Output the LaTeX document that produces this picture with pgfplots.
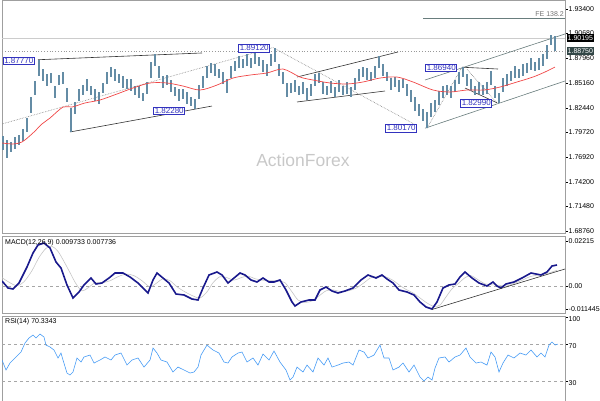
\documentclass[border=0pt]{standalone}
\usepackage{pgfplots}
\pgfplotsset{compat=1.18}
\usepackage{fontspec}
\setmainfont{Liberation Sans}
\definecolor{barc}{RGB}{100,140,165}
\definecolor{macdc}{RGB}{25,25,140}
\definecolor{rsic}{RGB}{70,155,245}
\definecolor{lblc}{RGB}{50,50,190}
\definecolor{chanc}{RGB}{105,125,125}
\definecolor{mac}{RGB}{240,70,70}
\definecolor{wm}{RGB}{200,200,200}
\definecolor{tagc}{RGB}{50,70,70}
\newcommand{\tk}{\fontsize{7}{8}\selectfont}
\newcommand{\lk}{\fontsize{8}{9}\selectfont}
\tikzset{lbl/.style={draw=lblc, fill=white, text=lblc, font=\lk, inner sep=1pt, line width=0.6pt}}
\begin{document}
\begin{tikzpicture}[x=1pt,y=1pt]
\pgfplotsset{
 panel/.style={scale only axis, width=563pt, xmin=2, xmax=565, anchor=north west,
  axis line style={draw=gray!75, line width=0.7pt},
  xtick=\empty, ytick pos=right, yticklabel pos=right, tick align=outside,
  scaled y ticks=false,
  major tick length=2.5pt, every tick/.style={draw=black, line width=0.4pt},
  yticklabel style={font=\tk, text=black, inner sep=1pt},
  clip mode=individual}
}
% ---------------- main price panel ----------------
\begin{axis}[panel, at={(2pt,0pt)}, height=233pt, ymin=1.68537, ymax=1.944,
 ytick={1.934,1.9068,1.8796,1.8516,1.8244,1.7972,1.7692,1.742,1.7148,1.6876},
 yticklabels={1.93400,1.90680,1.87960,1.85160,1.82440,1.79720,1.76920,1.74200,1.71480,1.68760}]
\node[text=wm, font=\fontsize{17.5}{18}\selectfont] at (axis cs:303,1.7664) {ActionForex};
% horizontal levels
\addplot[gray!40, line width=0.6pt] coordinates {(2,1.9018) (565,1.9018)};
\addplot[gray!80, dotted, line width=0.8pt] coordinates {(2,1.8875) (565,1.8875)};
\addplot[chanc, line width=0.6pt] coordinates {(423,1.9240) (565,1.9240)};
\node[anchor=south east, font=\tk, text=gray!90!black, inner sep=1pt] at (axis cs:565,1.9245) {FE 138.2};
% dotted swing lines
\addplot[gray, densely dotted, line width=0.6pt] coordinates {(2,1.8064) (273,1.8912) (414,1.8064)};
\addplot[gray, densely dotted, line width=0.6pt] coordinates {(427,1.8017) (462,1.8694)};
\addplot[gray, densely dotted, line width=0.6pt] coordinates {(467,1.8670) (497,1.8299)};
% trend lines
\addplot[black!80, line width=0.6pt] coordinates {(38,1.8777) (202,1.8852)};
\addplot[black!80, line width=0.6pt] coordinates {(70,1.7975) (212,1.8263)};
\addplot[black!80, line width=0.6pt] coordinates {(297,1.8585) (398,1.8863)};
\addplot[black!80, line width=0.6pt] coordinates {(297,1.8308) (385,1.8430)};
\addplot[chanc, line width=0.6pt] coordinates {(425,1.8017) (565,1.8541)};
\addplot[chanc, line width=0.6pt] coordinates {(425,1.8552) (565,1.9063)};
\addplot[black!80, line width=0.6pt] coordinates {(462,1.8694) (498,1.8674)};
\addplot[black!80, line width=0.6pt] coordinates {(465,1.8463) (497,1.8299)};
% bars (high-low)
\addplot[draw=none, mark=none, forget plot,
  error bars/.cd, y dir=both, y explicit, error mark=none,
  error bar style={draw=barc, line width=2.3pt, solid}]
 table[x=x, y=m, y error=r] {
x m r
3 1.7850 0.0080
7 1.7786 0.0100
11 1.7808 0.0055
15 1.7853 0.0062
19 1.7886 0.0055
23 1.7942 0.0068
27 1.8053 0.0075
31 1.8274 0.0090
35 1.8463 0.0080
39 1.8685 0.0092
43 1.8607 0.0062
47 1.8552 0.0070
51 1.8574 0.0055
55 1.8419 0.0068
59 1.8552 0.0060
63 1.8574 0.0062
67 1.8385 0.0080
71 1.8108 0.0133
75 1.8241 0.0070
79 1.8385 0.0062
83 1.8441 0.0055
87 1.8496 0.0068
91 1.8441 0.0050
95 1.8385 0.0062
99 1.8352 0.0065
103 1.8463 0.0060
107 1.8574 0.0070
111 1.8641 0.0055
115 1.8607 0.0062
119 1.8574 0.0050
123 1.8530 0.0068
127 1.8508 0.0055
131 1.8496 0.0062
135 1.8441 0.0050
139 1.8419 0.0068
143 1.8363 0.0044
147 1.8463 0.0062
151 1.8663 0.0085
155 1.8774 0.0067
159 1.8641 0.0062
163 1.8530 0.0070
167 1.8552 0.0055
171 1.8485 0.0062
175 1.8419 0.0050
179 1.8385 0.0068
183 1.8397 0.0055
187 1.8352 0.0062
191 1.8308 0.0050
195 1.8286 0.0058
199 1.8419 0.0075
203 1.8530 0.0062
207 1.8641 0.0068
211 1.8685 0.0055
215 1.8663 0.0062
219 1.8619 0.0050
223 1.8574 0.0068
227 1.8485 0.0077
231 1.8641 0.0070
235 1.8707 0.0055
239 1.8752 0.0062
243 1.8730 0.0050
247 1.8774 0.0068
251 1.8741 0.0055
255 1.8796 0.0062
259 1.8752 0.0050
263 1.8707 0.0068
267 1.8663 0.0070
271 1.8774 0.0062
275 1.8830 0.0082
279 1.8663 0.0068
283 1.8574 0.0062
287 1.8441 0.0075
291 1.8463 0.0055
295 1.8485 0.0062
299 1.8441 0.0050
303 1.8463 0.0068
307 1.8397 0.0067
311 1.8441 0.0062
315 1.8552 0.0068
319 1.8574 0.0055
323 1.8463 0.0062
327 1.8441 0.0050
331 1.8474 0.0068
335 1.8419 0.0055
339 1.8485 0.0062
343 1.8441 0.0050
347 1.8463 0.0068
351 1.8419 0.0055
355 1.8508 0.0070
359 1.8607 0.0062
363 1.8641 0.0055
367 1.8619 0.0062
371 1.8596 0.0050
375 1.8641 0.0068
379 1.8752 0.0066
383 1.8663 0.0062
387 1.8596 0.0050
391 1.8508 0.0068
395 1.8530 0.0055
399 1.8485 0.0062
403 1.8508 0.0050
407 1.8441 0.0068
411 1.8374 0.0070
415 1.8286 0.0075
419 1.8219 0.0068
423 1.8164 0.0070
427 1.8108 0.0091
431 1.8219 0.0075
435 1.8263 0.0062
439 1.8352 0.0075
443 1.8419 0.0062
447 1.8441 0.0055
451 1.8419 0.0062
455 1.8485 0.0068
459 1.8574 0.0070
463 1.8641 0.0053
467 1.8552 0.0070
471 1.8496 0.0062
475 1.8441 0.0050
479 1.8463 0.0068
483 1.8441 0.0055
487 1.8463 0.0062
491 1.8574 0.0075
495 1.8419 0.0068
499 1.8352 0.0053
503 1.8496 0.0075
507 1.8552 0.0062
511 1.8596 0.0055
515 1.8641 0.0062
519 1.8619 0.0050
523 1.8663 0.0068
527 1.8685 0.0055
531 1.8730 0.0062
535 1.8707 0.0050
539 1.8730 0.0068
543 1.8774 0.0062
547 1.8863 0.0075
551 1.8996 0.0056
555 1.8960 0.0085
};
% moving average
\addplot[mac, line width=0.7pt, smooth] coordinates {
(2,1.7853) (13,1.7842) (22,1.7864) (33,1.7964) (42,1.8064) (50,1.8130) (63,1.8252)
(72,1.8252) (85,1.8297) (100,1.8330) (117,1.8397) (133,1.8463) (150,1.8519) (167,1.8519)
(183,1.8485) (200,1.8441) (217,1.8496) (233,1.8574) (250,1.8607) (267,1.8630) (283,1.8674)
(300,1.8585) (313,1.8552) (330,1.8519) (347,1.8508) (363,1.8530) (380,1.8574) (397,1.8585)
(413,1.8530) (433,1.8441) (450,1.8419) (467,1.8441) (484,1.8441) (500,1.8474) (517,1.8530)
(533,1.8585) (545,1.8641) (555,1.8696)};
% swing labels
\node[lbl, anchor=west] at (axis cs:3,1.8765) {1.87770};
\node[lbl, anchor=east] at (axis cs:270,1.8907) {1.89120};
\node[lbl, anchor=east] at (axis cs:185,1.8210) {1.82280};
\node[lbl, anchor=east] at (axis cs:417,1.8019) {1.80170};
\node[lbl, anchor=east] at (axis cs:457,1.8688) {1.86940};
\node[lbl, anchor=east] at (axis cs:492,1.8297) {1.82990};
% price tags
\node[fill=black, text=white, font=\tk, inner sep=1pt, anchor=west, minimum height=8.5pt] at (axis cs:566.5,1.9018) {1.90195};
\node[fill=tagc, text=white, font=\tk, inner sep=1pt, anchor=west, minimum height=8.5pt] at (axis cs:566.5,1.8875) {1.88750};
\end{axis}
% ---------------- MACD panel ----------------
\begin{axis}[panel, at={(2pt,-236pt)}, height=77pt, ymin=-0.01344, ymax=0.0246,
 ytick={0.02215,0,-0.011445}, yticklabels={0.02215,0.00,-0.011445}]
\addplot[gray!70, dashed, line width=0.4pt] coordinates {(2,0) (565,0)};
\addplot[gray!45, line width=0.6pt, smooth] coordinates {
(2,0.0040) (10,0.0015) (17,0.0000) (24,0.0020) (32,0.0075) (39,0.0140) (46,0.0185) (52,0.0195)
(58,0.0170) (64,0.0120) (70,0.0065) (76,0.0010) (82,-0.0025) (88,-0.0010) (95,0.0015) (102,0.0015)
(110,0.0025) (118,0.0045) (126,0.0058) (134,0.0050) (142,0.0025) (150,-0.0005) (157,0.0015)
(163,0.0035) (170,0.0025) (177,-0.0005) (185,-0.0030) (193,-0.0050) (200,-0.0060) (207,-0.0030)
(213,0.0015) (220,0.0045) (227,0.0040) (234,0.0028) (241,0.0040) (248,0.0048) (255,0.0035)
(262,0.0028) (270,0.0025) (278,0.0025) (285,0.0015) (292,-0.0030) (298,-0.0070) (305,-0.0082)
(312,-0.0075) (319,-0.0050) (326,-0.0025) (333,-0.0020) (340,-0.0028) (348,-0.0025) (356,-0.0012)
(364,0.0015) (371,0.0040) (378,0.0045) (385,0.0045) (392,0.0030) (399,0.0005) (406,-0.0018)
(413,-0.0035) (420,-0.0060) (427,-0.0085) (434,-0.0102) (440,-0.0095) (446,-0.0055) (452,-0.0015)
(458,0.0010) (465,0.0040) (471,0.0050) (478,0.0030) (485,0.0010) (492,0.0005) (499,0.0003)
(506,-0.0002) (513,0.0010) (521,0.0025) (530,0.0045) (540,0.0055) (548,0.0062) (557,0.0077)};
\addplot[macdc, line width=1.6pt] coordinates {
(2,0.00237) (8,-0.00109) (13,-0.00158) (19,0.00138) (27,0.00929) (33,0.01620) (38,0.02016)
(44,0.02114) (50,0.01868) (56,0.01176) (61,0.00879) (67,0.00040) (73,-0.00603) (79,-0.00306)
(84,0.00040) (91,0.00385) (96,0.00089) (102,0.00138) (109,0.00385) (115,0.00632) (123,0.00632)
(130,0.00435) (138,0.00138) (148,-0.00356) (153,0.00287) (157,0.00632) (163,0.00385) (169,0.00138)
(176,-0.00405) (184,-0.00454) (192,-0.00652) (198,-0.00701) (203,-0.00109) (209,0.00534)
(217,0.00682) (222,0.00534) (228,0.00138) (234,0.00385) (240,0.00632) (245,0.00534) (251,0.00287)
(257,0.00188) (263,0.00385) (269,0.00188) (274,0.00188) (280,0.00287) (286,-0.00207) (292,-0.00800)
(295,-0.00998) (301,-0.00800) (309,-0.00701) (315,-0.00701) (320,-0.00207) (326,-0.00059)
(332,-0.00257) (338,-0.00356) (345,-0.00257) (353,-0.00109) (361,0.00287) (368,0.00534)
(376,0.00385) (382,0.00534) (387,0.00336) (393,0.00138) (399,-0.00207) (407,-0.00306)
(414,-0.00454) (420,-0.00800) (426,-0.01047) (432,-0.01146) (437,-0.00800) (443,-0.00109)
(449,0.00040) (455,0.00089) (460,0.00435) (465,0.00682) (472,0.00385) (479,0.00138) (487,-0.00010)
(493,0.00188) (497,-0.00010) (501,-0.00109) (506,0.00089) (514,0.00188) (522,0.00385)
(531,0.00632) (541,0.00534) (547,0.00682) (552,0.00978) (557,0.01028)};
\addplot[black!80, line width=0.6pt] coordinates {(432,-0.0117) (565,0.0083)};
\node[anchor=west, font=\tk, inner sep=1pt] at (axis cs:4,0.02114) {MACD(12,26,9) 0.009733 0.007736};
\end{axis}
% ---------------- RSI panel ----------------
\begin{axis}[panel, at={(2pt,-316pt)}, height=86pt, ymin=7.1, ymax=100.9,
 ytick={100,70,30}, yticklabels={100,70,30},
 yticklabel style={yshift=-2pt}]
\addplot[gray!70, dashed, line width=0.4pt] coordinates {(2,70) (565,70)};
\addplot[gray!70, dashed, line width=0.4pt] coordinates {(2,30) (565,30)};
\addplot[rsic, line width=0.6pt] coordinates {
(2,52.9) (6,42.0) (10,49.6) (15,55.1) (21,61.6) (25,71.4) (29,76.9) (33,80.1) (36,76.9) (40,81.2)
(44,78.0) (46,69.2) (50,67.1) (54,63.8) (58,55.1) (61,60.5) (63,52.9) (67,38.7) (70,36.5) (73,39.8)
(77,55.1) (81,50.7) (84,56.2) (90,58.3) (94,49.6) (100,52.9) (105,56.2) (111,52.9) (115,58.3)
(121,60.5) (127,47.4) (132,52.9) (138,55.1) (144,45.2) (150,52.9) (153,66.0) (157,60.5) (161,52.9)
(167,50.7) (173,39.8) (178,45.2) (184,42.0) (190,38.7) (194,39.8) (198,45.2) (201,58.3) (207,69.2)
(213,63.8) (219,60.5) (224,50.7) (228,49.6) (232,56.2) (238,60.5) (242,61.6) (247,50.7) (253,55.1)
(258,47.4) (263,59.4) (269,52.9) (274,62.7) (280,50.7) (286,42.0) (290,31.1) (293,34.3) (297,45.2)
(303,39.8) (307,47.4) (313,39.8) (318,55.1) (324,47.4) (328,55.1) (332,45.2) (338,47.4) (343,49.6)
(349,50.7) (353,47.4) (359,63.8) (364,61.6) (368,55.1) (374,58.3) (380,69.2) (384,55.1) (389,55.1)
(393,42.0) (399,45.2) (403,49.6) (409,39.8) (414,47.4) (420,34.3) (424,30.0) (428,34.3) (432,31.1)
(435,44.1) (439,55.1) (445,56.2) (449,50.7) (455,56.2) (460,58.3) (466,66.0) (470,56.2) (476,49.6)
(481,50.7) (487,47.4) (491,61.6) (495,56.2) (499,39.8) (503,49.6) (508,58.3) (514,55.1) (520,60.5)
(526,58.3) (531,63.8) (537,56.2) (541,60.5) (545,56.2) (549,69.2) (552,72.5) (555,69.2) (558,70.3)};
\node[anchor=west, font=\tk, inner sep=1pt] at (axis cs:4,94.3) {RSI(14) 70.3343};
\end{axis}
\pgfresetboundingbox
\path[use as bounding box] (0,-400) rectangle (600,0);
\end{tikzpicture}
\end{document}
